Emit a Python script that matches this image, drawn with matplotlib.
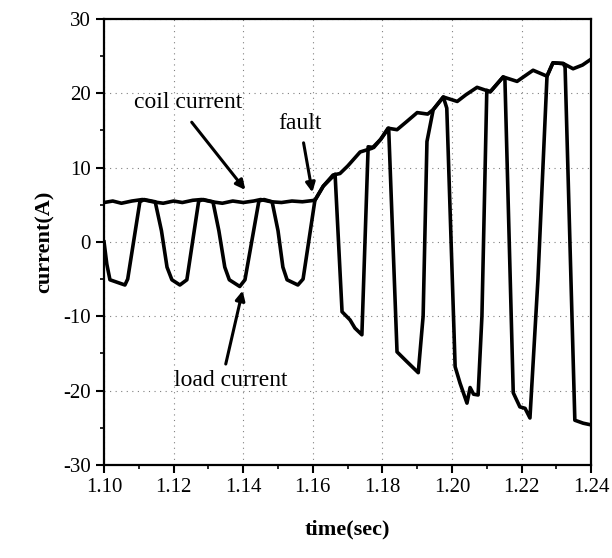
from matplotlib import pyplot as plt
from matplotlib.ticker import MultipleLocator

plt.rcParams['font.family'] = ['Liberation Serif', 'DejaVu Serif']
plt.rcParams['axes.unicode_minus'] = False

# coil current (A) vs time (sec)
coil_t = [1.100, 1.1025, 1.105, 1.108, 1.111, 1.114, 1.117, 1.120, 1.1225,
          1.1255, 1.128, 1.131, 1.134, 1.137, 1.140, 1.143, 1.145, 1.148,
          1.151, 1.154, 1.157, 1.1606, 1.163, 1.1658, 1.1678, 1.170, 1.1736,
          1.177, 1.1795, 1.1816, 1.1842, 1.187, 1.190, 1.193, 1.1946, 1.1975,
          1.2015, 1.204, 1.2072, 1.211, 1.2147, 1.2187, 1.2233, 1.2273, 1.229,
          1.232, 1.2348, 1.2375, 1.240]
coil_i = [5.3, 5.5, 5.2, 5.5, 5.7, 5.4, 5.2, 5.5, 5.3,
          5.6, 5.7, 5.4, 5.2, 5.5, 5.3, 5.5, 5.7, 5.4,
          5.3, 5.5, 5.4, 5.6, 7.5, 9.0, 9.2, 10.2, 12.1,
          12.6, 13.8, 15.3, 15.1, 16.2, 17.4, 17.2, 17.8, 19.5,
          18.9, 19.8, 20.8, 20.2, 22.2, 21.6, 23.1, 22.3, 24.1,
          24.0, 23.3, 23.8, 24.6]

# load current (A) vs time (sec)
load_t = [1.100, 1.1008, 1.1017, 1.106, 1.1068, 1.1103, 1.1115, 1.1147,
          1.1165, 1.1181, 1.1195, 1.1218, 1.1238, 1.1272, 1.1285, 1.1313,
          1.1330, 1.1347, 1.1360, 1.1390, 1.1405, 1.1445, 1.1460, 1.1483,
          1.1500, 1.1514, 1.1526, 1.1557, 1.1572, 1.1606, 1.163, 1.1664,
          1.1684, 1.1707, 1.1721, 1.1741, 1.1759, 1.1775, 1.1795, 1.1818,
          1.1842, 1.187, 1.1903, 1.1917, 1.1928, 1.1946, 1.1975,
          1.1985, 1.2009, 1.2023, 1.2043, 1.2052, 1.2062, 1.2075, 1.2086,
          1.2100, 1.211, 1.2147, 1.2152, 1.2176, 1.2195, 1.2210, 1.2224,
          1.2247, 1.2273, 1.229, 1.232, 1.2325, 1.2353, 1.2377, 1.2397]
load_i = [0.0, -3.0, -5.1, -5.8, -5.0, 5.4, 5.7, 5.4,
          1.5, -3.4, -5.1, -5.8, -5.1, 5.5, 5.7, 5.4,
          1.5, -3.4, -5.1, -6.0, -5.1, 5.5, 5.7, 5.4,
          1.5, -3.4, -5.1, -5.8, -5.0, 5.6, 7.5, 9.1,
          -9.4, -10.5, -11.6, -12.5, 12.8, 12.7, 13.8, 15.3,
          -14.8, -16.1, -17.6, -10.0, 13.5, 17.8, 19.5,
          18.0, -16.8, -19.0, -21.7, -19.6, -20.5, -20.6, -10.0,
          20.4, 20.2, 22.2, 22.0, -20.3, -22.2, -22.4, -23.7,
          -5.0, 22.3, 24.1, 24.0, 23.5, -24.0, -24.4, -24.6]

f = plt.figure(figsize=(6.12, 5.58), dpi=100)
ax = f.add_axes([0.170, 0.167, 0.796, 0.799])

ax.plot(coil_t, coil_i, color='black', lw=2.6, solid_joinstyle='round')
ax.plot(load_t, load_i, color='black', lw=2.6, solid_joinstyle='round')

ax.set_xlim(1.10, 1.24)
ax.set_ylim(-30, 30)
ax.xaxis.set_major_locator(MultipleLocator(0.02))
ax.xaxis.set_minor_locator(MultipleLocator(0.01))
ax.yaxis.set_major_locator(MultipleLocator(10))
ax.yaxis.set_minor_locator(MultipleLocator(5))
ax.xaxis.set_major_formatter(plt.FormatStrFormatter('%.2f'))
ax.tick_params(which='major', direction='out', length=6, width=1.5, labelsize=15)
ax.tick_params(which='minor', direction='out', length=3, width=1.2)
ax.grid(True, which='major', color='gray', lw=0.8, linestyle=(0, (1, 4)))
for s in ax.spines.values():
    s.set_linewidth(1.6)

ax.set_xlabel('time(sec)', fontsize=16, fontweight='bold', labelpad=16)
ax.set_ylabel('current(A)', fontsize=16, fontweight='bold', labelpad=6)

arrow = dict(arrowstyle='-|>', color='black', lw=2.2, mutation_scale=14)
ax.text(1.1241, 18.7, 'coil current', fontsize=17, ha='center', va='center')
ax.annotate('', xy=(1.1411, 6.7), xytext=(1.1247, 16.4), arrowprops=arrow)
ax.text(1.1563, 16.0, 'fault', fontsize=17, ha='center', va='center')
ax.annotate('', xy=(1.1600, 6.3), xytext=(1.1572, 13.7), arrowprops=arrow)
ax.text(1.1363, -18.7, 'load current', fontsize=17, ha='center', va='center')
ax.annotate('', xy=(1.1400, -6.2), xytext=(1.1348, -16.8), arrowprops=arrow)

f.savefig('out.png', dpi=100)
